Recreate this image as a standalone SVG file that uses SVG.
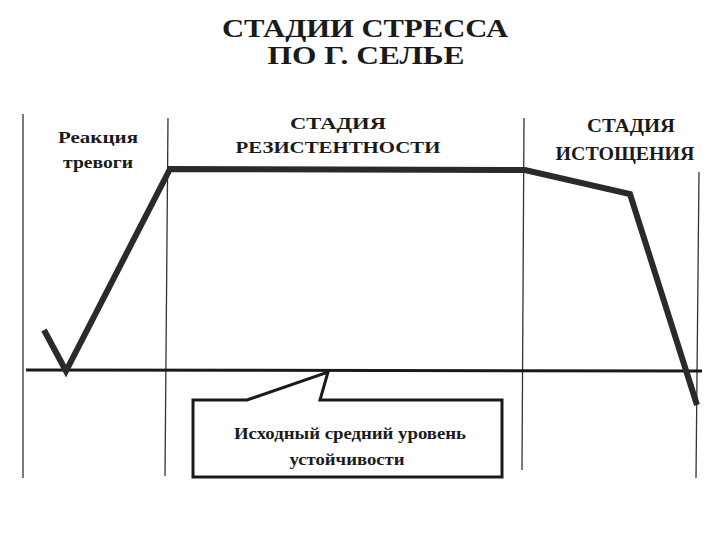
<svg xmlns="http://www.w3.org/2000/svg" width="720" height="540" viewBox="0 0 720 540">
<style>
.t{font-family:"Liberation Serif","Times New Roman",serif;font-weight:bold;fill:#1a1a1a;text-anchor:middle}
.grid{stroke:#333;stroke-width:1.3;fill:none}
.curve{stroke:#2a2a2a;stroke-width:6;fill:none;stroke-linejoin:miter}
.box{stroke:#1a1a1a;stroke-width:3;fill:#fff;stroke-linejoin:miter}
</style>
<rect width="720" height="540" fill="#fff"/>
<g id="title">
<text class="t" x="365" y="37" font-size="26" textLength="286" lengthAdjust="spacingAndGlyphs">СТАДИИ СТРЕССА</text>
<text class="t" x="366" y="64" font-size="26" textLength="197" lengthAdjust="spacingAndGlyphs">ПО Г. СЕЛЬЕ</text>
</g>
<g id="grid">
<line class="grid" x1="23" y1="114" x2="23" y2="478"/>
<line class="grid" x1="168" y1="118" x2="165" y2="476"/>
<line class="grid" x1="524" y1="118" x2="522" y2="470"/>
<line class="grid" x1="699" y1="172" x2="696" y2="478"/>
<line stroke="#1a1a1a" stroke-width="3" x1="26" y1="370" x2="702" y2="371"/>
</g>
<g id="connectors">
<polyline class="curve" points="44,330 66,371 170,169 525,170 630,194 697,405"/>
</g>
<g id="alarm">
<text class="t" x="98" y="143" font-size="17" textLength="80" lengthAdjust="spacingAndGlyphs">Реакция</text>
<text class="t" x="98" y="168" font-size="17" textLength="70" lengthAdjust="spacingAndGlyphs">тревоги</text>
</g>
<g id="resistance">
<text class="t" x="338" y="129" font-size="17" textLength="96" lengthAdjust="spacingAndGlyphs">СТАДИЯ</text>
<text class="t" x="338" y="153" font-size="17" textLength="205" lengthAdjust="spacingAndGlyphs">РЕЗИСТЕНТНОСТИ</text>
</g>
<g id="exhaustion">
<text class="t" x="631" y="132" font-size="18" textLength="88" lengthAdjust="spacingAndGlyphs">СТАДИЯ</text>
<text class="t" x="625" y="160" font-size="18" textLength="139" lengthAdjust="spacingAndGlyphs">ИСТОЩЕНИЯ</text>
</g>
<g id="baseline-callout">
<path class="box" d="M193,400 L247,400 L328,372 L320,400 L502,400 L502,477 L193,477 Z"/>
<text class="t" x="350" y="439" font-size="16" textLength="232" lengthAdjust="spacingAndGlyphs">Исходный средний уровень</text>
<text class="t" x="347" y="465" font-size="16" textLength="115" lengthAdjust="spacingAndGlyphs">устойчивости</text>
</g>
</svg>
